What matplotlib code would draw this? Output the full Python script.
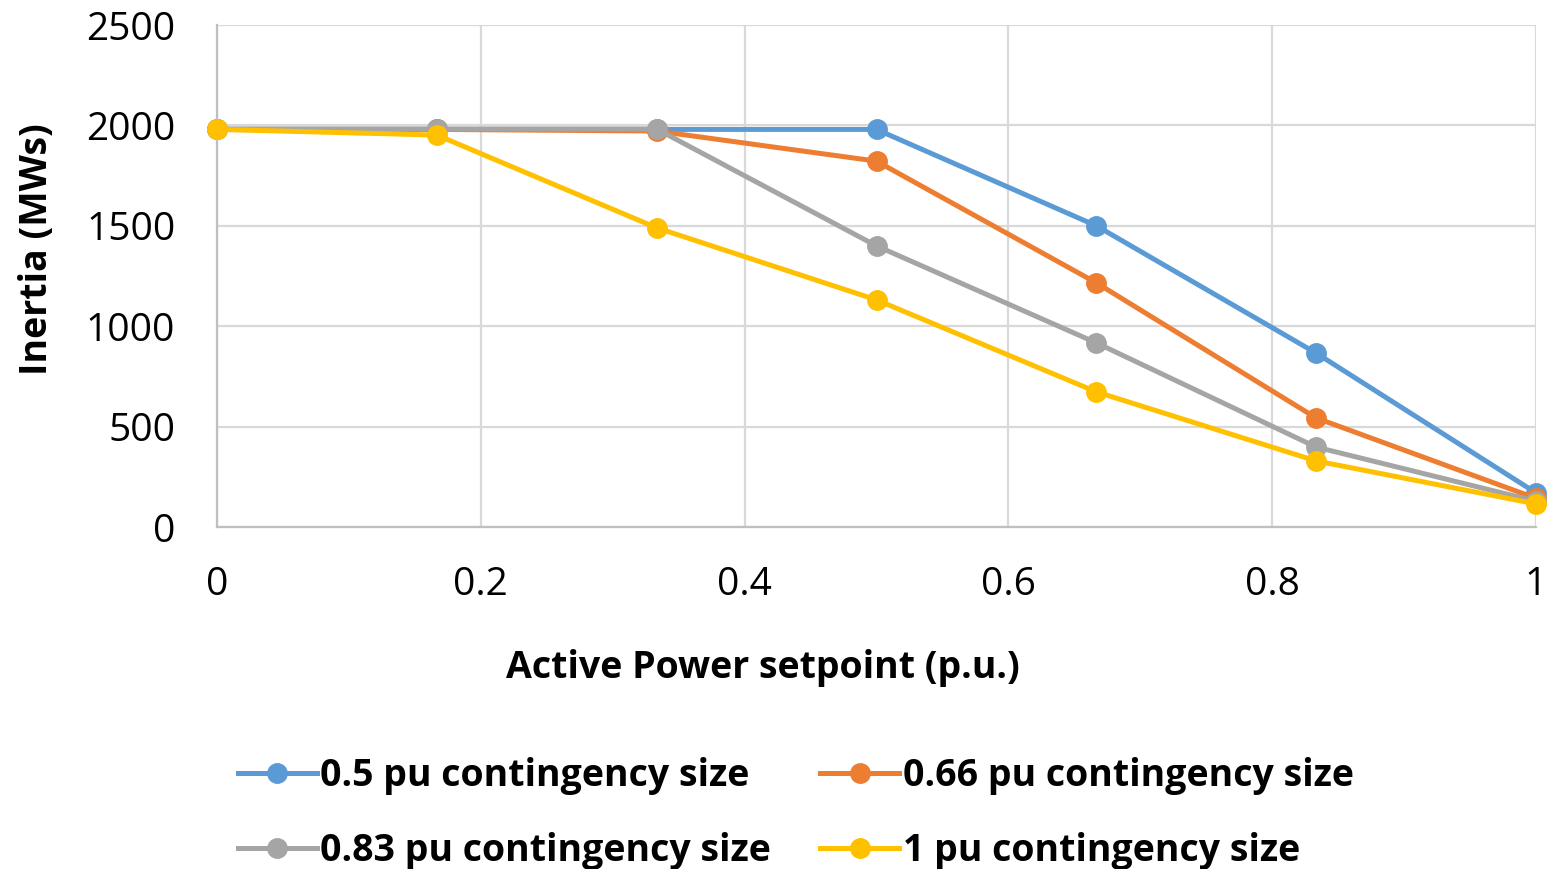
import matplotlib.pyplot as plt
import numpy as np

plt.rcParams['font.family'] = ['Open Sans', 'DejaVu Sans']

x = [0, 1/6, 1/3, 0.5, 2/3, 5/6, 1]

y05 = [1980, 1980, 1980, 1980, 1500, 866, 170]
y066 = [1980, 1980, 1972, 1822, 1216, 543, 143]
y083 = [1982, 1982, 1982, 1400, 917, 398, 128]
y1 = [1980, 1952, 1490, 1131, 673, 329, 115]

labels = ['0.5 pu contingency size', '0.66 pu contingency size',
          '0.83 pu contingency size', '1 pu contingency size']
colors = ['#5B9BD5', '#ED7D31', '#A5A5A5', '#FFC000']

fig = plt.figure(figsize=(15.62, 8.69), dpi=100)
ax = fig.add_axes([217/1562, 1-527/869, (1536-217)/1562, (527-25)/869])

lines = []
for yy, lab, c in zip([y05, y066, y083, y1], labels, colors):
    l, = ax.plot(x, yy, color=c, linewidth=3.6, marker='o', markersize=14,
                 label=lab, clip_on=False, zorder=3)
    lines.append(l)

ax.set_xlim(0, 1)
ax.set_ylim(0, 2500)
ax.set_xticks(np.arange(0, 1.01, 0.2))
ax.set_xticklabels(['0', '0.2', '0.4', '0.6', '0.8', '1'])
ax.set_yticks(np.arange(0, 2501, 500))
ax.grid(True, color='#D9D9D9', linewidth=1.6)
ax.set_axisbelow(True)
for s in ['top', 'right']:
    ax.spines[s].set_visible(False)
for s in ['left', 'bottom']:
    ax.spines[s].set_color('#BFBFBF')
    ax.spines[s].set_linewidth(1.6)
ax.tick_params(length=0, labelsize=28, colors='black')
ax.tick_params(axis='y', pad=30)
ax.tick_params(axis='x', pad=28)

fig.text(763/1562, 1-668/869, 'Active Power setpoint (p.u.)', fontsize=27,
         fontweight='bold', ha='center', va='center')
fig.text(37/1562, 1-249/869, 'Inertia (MWs)', fontsize=27, fontweight='bold',
         ha='center', va='center', rotation=90)

order = [0, 2, 1, 3]
fig.legend([lines[i] for i in order], [labels[i] for i in order], ncol=2,
           loc='upper left', bbox_to_anchor=(223/1562, 1-742/869), borderaxespad=0,
           frameon=False, prop={'size': 27, 'weight': 'bold'}, handlelength=2.1,
           handletextpad=0.1, columnspacing=1.3, labelspacing=0.98)

plt.savefig('out.png', dpi=100)
